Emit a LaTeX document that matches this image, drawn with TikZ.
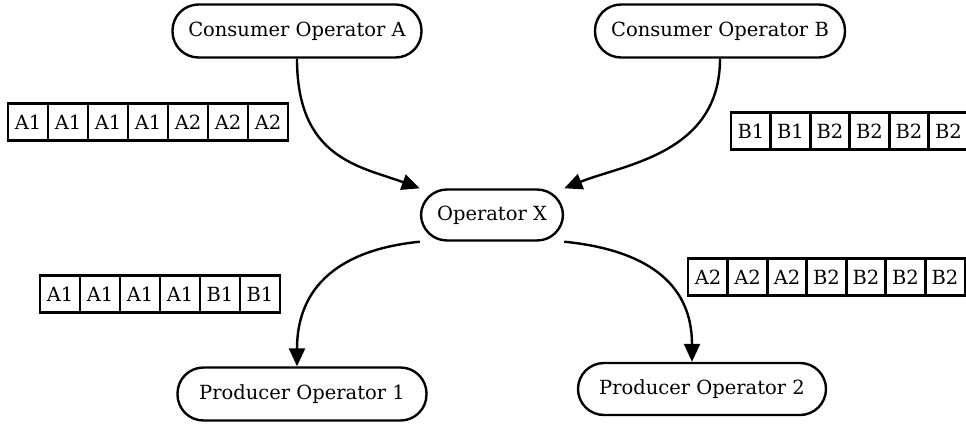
\documentclass[tikz,border=0pt]{standalone}
\usepackage{fontspec}
\setmainfont{DejaVu Serif}
\usetikzlibrary{arrows.meta}
\begin{document}
\begin{tikzpicture}[x=1pt,y=-1pt,
  op/.style={draw,line width=2.4pt,rounded corners=26pt,inner sep=0pt,font=\fontsize{19.5}{22}\selectfont},
  cell/.style={draw,line width=2.4pt,minimum width=40pt,minimum height=37pt,inner sep=0pt,font=\fontsize{19.5}{22}\selectfont},
  flow/.style={line width=2.4pt,-{Triangle[length=18pt,width=16pt]}}]
\useasboundingbox (0,0) rectangle (966,423);
\node[op,minimum width=249pt,minimum height=53pt] (ca) at (297,31) {Consumer Operator A};
\node[op,minimum width=250pt,minimum height=53pt] (cb) at (720,31) {Consumer Operator B};
\node[op,minimum width=142pt,minimum height=51pt] (x) at (492,215) {Operator X};
\node[op,minimum width=249pt,minimum height=53pt] (p1) at (302,394) {Producer Operator 1};
\node[op,minimum width=248pt,minimum height=52pt] (p2) at (702,389) {Producer Operator 2};
% token rows
\foreach \t [count=\i] in {A1,A1,A1,A1,A2,A2,A2}
  \node[cell] (r1c\i) at ({28+40*(\i-1)},122) {\t};
\foreach \t [count=\i] in {B1,B1,B2,B2,B2,B2}
  \node[cell] (r2c\i) at ({751+39.5*(\i-1)},131) {\t};
\foreach \t [count=\i] in {A1,A1,A1,A1,B1,B1}
  \node[cell] (r3c\i) at ({60+40*(\i-1)},294) {\t};
\foreach \t [count=\i] in {A2,A2,A2,B2,B2,B2,B2}
  \node[cell] (r4c\i) at ({708+39.5*(\i-1)},277) {\t};
% connectors
\draw[flow] (ca.south) .. controls +(0,100) and +(-60,-22) .. (x.north west);
\draw[flow] (cb.south) .. controls +(0,95) and +(60,-24) .. (x.north east);
\draw[flow] (x.south west) .. controls +(-80,8) and +(0,-80) .. ([xshift=-5pt]p1.north);
\draw[flow] (x.south east) .. controls +(80,8) and +(0,-80) .. ([xshift=-10pt]p2.north);
\end{tikzpicture}
\end{document}
